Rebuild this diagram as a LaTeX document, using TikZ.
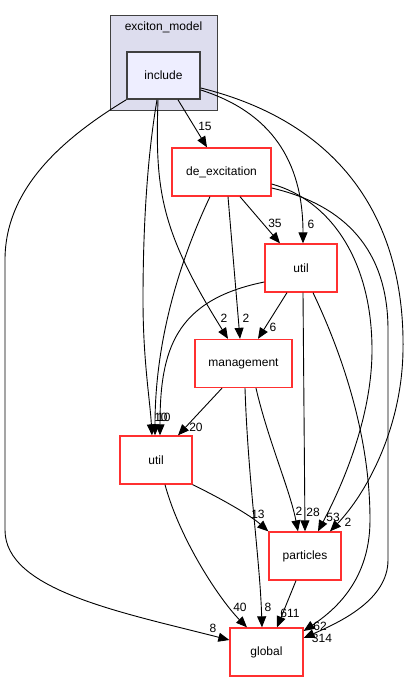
\documentclass[tikz,border=0pt]{standalone}
\usepackage{fontspec}
\setmainfont{Liberation Sans}
\usetikzlibrary{arrows.meta}
\definecolor{clfill}{HTML}{DDDDEE}
\definecolor{incfill}{HTML}{EEEEFF}
\definecolor{dkgray}{HTML}{404040}
\definecolor{boxred}{HTML}{FF3030}
\begin{document}
\begin{tikzpicture}[x=1pt,y=-1pt,
  font=\fontsize{12}{14}\selectfont,
  dirbox/.style={draw=boxred, line width=1.3pt, fill=white, inner sep=0pt, minimum width=#1, minimum height=48pt},
  dirbox/.default=72pt,
  edge/.style={draw=black, line width=0.9pt, -{Triangle[length=11pt,width=9pt]}},
  elabel/.style={inner sep=0pt}]
\useasboundingbox (0,0) rectangle (411,681);
% cluster
\node[draw=dkgray, fill=clfill, line width=1pt, minimum width=106.5pt, minimum height=95pt, inner sep=0pt] (cl) at (163.75,63) {};
\node (cltext) at (163.5,27) {exciton\_model};
% nodes
\node[draw=dkgray, fill=incfill, line width=1.6pt, minimum width=73pt, minimum height=47pt, inner sep=0pt] (inc) at (163.5,75.5) {include};
\node[dirbox=99pt] (dex) at (221.5,172) {de\_excitation};
\node[dirbox] (utop) at (301,268) {util};
\node[dirbox=97pt] (mgmt) at (243.5,363.5) {management};
\node[dirbox] (ulow) at (156,460) {util};
\node[dirbox] (part) at (305,556) {particles};
\node[dirbox=73pt] (glob) at (266.5,652) {global};
% edges from include
\draw[edge] (inc.south west) .. controls (60,140) and (5,190) .. (5,260) -- (5,530) .. controls (5,590) and (120,612) .. ([yshift=12pt]glob.west);
\draw[edge] ([xshift=14.5pt]inc.south) -- ([xshift=-14.5pt]dex.north);
\draw[edge] ([yshift=-14.5pt]inc.east) .. controls (270,112) and (303,160) .. ([xshift=2pt]utop.north);
\draw[edge] ([yshift=-12.5pt]inc.east) .. controls (350,125) and (405,230) .. (403,350) .. controls (402,430) and (365,495) .. ([xshift=25pt]part.north);
\draw[edge] ([xshift=-5.5pt]inc.south) .. controls (155,190) and (160,230) .. ([xshift=-15.5pt]mgmt.north);
\draw[edge] ([xshift=-6.5pt]inc.south) .. controls (145,170) and (143,250) .. (143,300) .. controls (143,360) and (150,400) .. ([xshift=-4pt]ulow.north);
% edges from de_excitation
\draw[edge] ([xshift=-11.5pt]dex.south) .. controls (180,260) and (155,340) .. ([xshift=-1pt]ulow.north);
\draw[edge] ([xshift=6.5pt]dex.south) -- ([xshift=-3.5pt]mgmt.north);
\draw[edge] ([xshift=18.5pt]dex.south) -- ([xshift=-21pt]utop.north);
\draw[edge] ([yshift=-12pt]dex.east) .. controls (330,200) and (372,260) .. (372,350) .. controls (372,420) and (340,490) .. ([xshift=13pt]part.north);
\draw[edge] ([yshift=-16pt]dex.east) .. controls (345,205) and (388,250) .. (388,330) -- (388,560) .. controls (388,600) and (340,622) .. ([yshift=14pt]glob.east);
% edges from util (top)
\draw[edge] ([xshift=12pt]utop.south) .. controls (345,360) and (370,440) .. (370,520) .. controls (370,580) and (335,610) .. ([yshift=21pt]glob.east);
\draw[edge] ([xshift=2pt]utop.south) -- (part.north);
\draw[edge] ([yshift=-14pt]utop.west) .. controls (175,300) and (160,350) .. ([xshift=4pt]ulow.north);
\draw[edge] ([xshift=-14pt]utop.south) -- ([xshift=14.5pt]mgmt.north);
% edges from management
\draw[edge] ([xshift=-21.5pt]mgmt.south) -- ([xshift=22pt]ulow.north);
\draw[edge] ([xshift=12.5pt]mgmt.south) .. controls (268,440) and (290,490) .. ([xshift=-7pt]part.north);
\draw[edge] ([xshift=1.5pt]mgmt.south) .. controls (248,480) and (260,560) .. ([xshift=-4.5pt]glob.north);
% edges from util (low)
\draw[edge] (ulow.south east) .. controls (220,498) and (250,515) .. (part.north west);
\draw[edge] ([xshift=9pt]ulow.south) .. controls (180,540) and (220,600) .. ([xshift=-19.5pt]glob.north);
% particles
\draw[edge] ([xshift=-9pt]part.south) -- ([xshift=10.5pt]glob.north);
% labels
\node[elabel] (l15) at (205,126) {15};
\node[elabel] (l6a) at (311,224) {6};
\node[elabel] (l35) at (275,223) {35};
\node[elabel] (l2a) at (224,318) {2};
\node[elabel] (l2b) at (246,318) {2};
\node[elabel] (l6b) at (273,327) {6};
\node[elabel] (l10a) at (161,417) {10};
\node[elabel] (l10b) at (164,417) {10};
\node[elabel] (l20) at (196,427) {20};
\node[elabel] (l13) at (258,514) {13};
\node[elabel] (l2c) at (299,511) {2};
\node[elabel] (l28) at (313,512) {28};
\node[elabel] (l53) at (333,517) {53};
\node[elabel] (l2d) at (348,522) {2};
\node[elabel] (l40) at (240,607) {40};
\node[elabel] (l8a) at (268,607) {8};
\node[elabel] (l611) at (290,613) {611};
\node[elabel] (l8b) at (213,628) {8};
\node[elabel] (l62) at (320,626) {62};
\node[elabel] (l314) at (322,638) {314};
\end{tikzpicture}
\end{document}
